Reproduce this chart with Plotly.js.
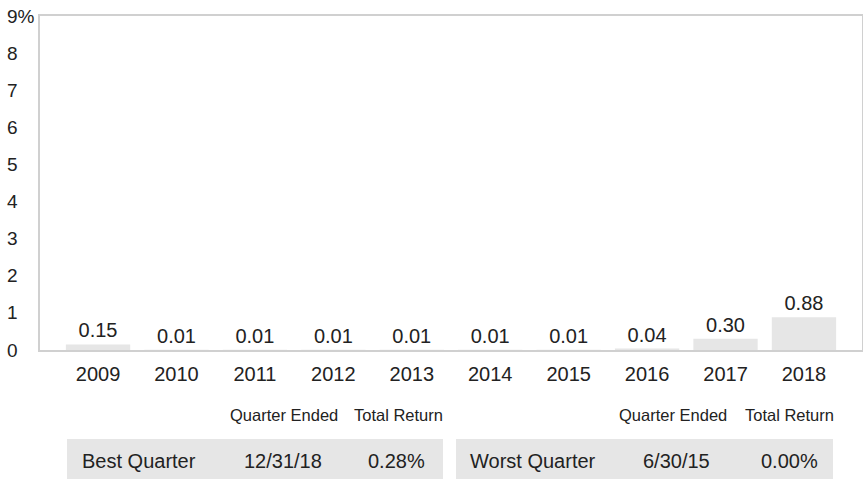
<!DOCTYPE html>
<html><head><meta charset="utf-8">
<script src="https://cdn.plot.ly/plotly-3.0.1.min.js"></script>
<style>html,body{margin:0;padding:0;background:#fff}#chart{width:863px;height:479px}</style>
</head><body><div id="chart"></div>
<script>
const years = ["2009","2010","2011","2012","2013","2014","2015","2016","2017","2018"];
const returns = [0.15,0.01,0.01,0.01,0.01,0.01,0.01,0.04,0.30,0.88];
const returnLabels = ["0.15","0.01","0.01","0.01","0.01","0.01","0.01","0.04","0.30","0.88"];
const yTickVals = [0,1,2,3,4,5,6,7,8,9];
const yTickText = ["0","1","2","3","4","5","6","7","8","9%"];
const headers = ["Quarter Ended","Total Return"];
const bestRow = ["Best Quarter","12/31/18","0.28%"];
const worstRow = ["Worst Quarter","6/30/15","0.00%"];

const W=863,H=479,L=40,R=1,T=16,B=129;
const pw=W-L-R, ph=H-T-B;
const px=x=>(x-L)/pw, py=y=>(H-B-y)/ph;
const font="Liberation Sans, Arial, sans-serif";
const txt="#222";

const annotations=[];
yTickVals.forEach((v,i)=>annotations.push({xref:'paper',yref:'y',x:px(5),y:v,xanchor:'left',yanchor:'middle',
  text:yTickText[i],showarrow:false,font:{family:font,size:19,color:txt}}));
[[284,398],[673,789]].forEach(pos=>{
  headers.forEach((h,i)=>annotations.push({xref:'paper',yref:'paper',x:px(pos[i]),y:py(415),xanchor:'center',yanchor:'middle',
    text:h,showarrow:false,font:{family:font,size:16.5,color:txt}}));
});
function row(vals,startX,c2,c3){
  annotations.push({xref:'paper',yref:'paper',x:px(startX),y:py(461),xanchor:'left',yanchor:'middle',text:vals[0],showarrow:false,font:{family:font,size:20,color:txt}});
  annotations.push({xref:'paper',yref:'paper',x:px(c2),y:py(461),xanchor:'center',yanchor:'middle',text:vals[1],showarrow:false,font:{family:font,size:20,color:txt}});
  annotations.push({xref:'paper',yref:'paper',x:px(c3),y:py(461),xanchor:'center',yanchor:'middle',text:vals[2],showarrow:false,font:{family:font,size:20,color:txt}});
}
row(bestRow,80,283,396);
row(worstRow,468,676,789);

const shapes=[
  {type:'rect',xref:'paper',yref:'paper',x0:px(67),x1:px(443),y0:py(439),y1:py(480),fillcolor:'#e6e6e6',line:{width:0},layer:'below'},
  {type:'rect',xref:'paper',yref:'paper',x0:px(456),x1:px(833),y0:py(439),y1:py(480),fillcolor:'#e6e6e6',line:{width:0},layer:'below'}
];

Plotly.newPlot('chart',[{
  type:'bar',x:years,y:returns,text:returnLabels,textposition:'outside',cliponaxis:false,
  textfont:{family:font,size:20,color:txt},marker:{color:'#e6e6e6'},width:0.82,hoverinfo:'skip'
}],{
  width:W,height:H,margin:{l:L,r:R,t:T,b:B},paper_bgcolor:'#fff',plot_bgcolor:'#fff',
  showlegend:false,
  xaxis:{type:'category',range:[-0.74,9.74],showgrid:false,zeroline:false,showline:true,mirror:true,linecolor:'#d0d0d0',linewidth:2,
    ticks:'',tickfont:{family:font,size:20,color:txt},ticklabelstandoff:5,fixedrange:true},
  yaxis:{range:[0,9],tickvals:yTickVals,showticklabels:false,showgrid:false,zeroline:false,showline:true,mirror:true,linecolor:'#d0d0d0',linewidth:2,ticks:'',fixedrange:true},
  annotations:annotations,shapes:shapes
},{staticPlot:true});
</script></body></html>
